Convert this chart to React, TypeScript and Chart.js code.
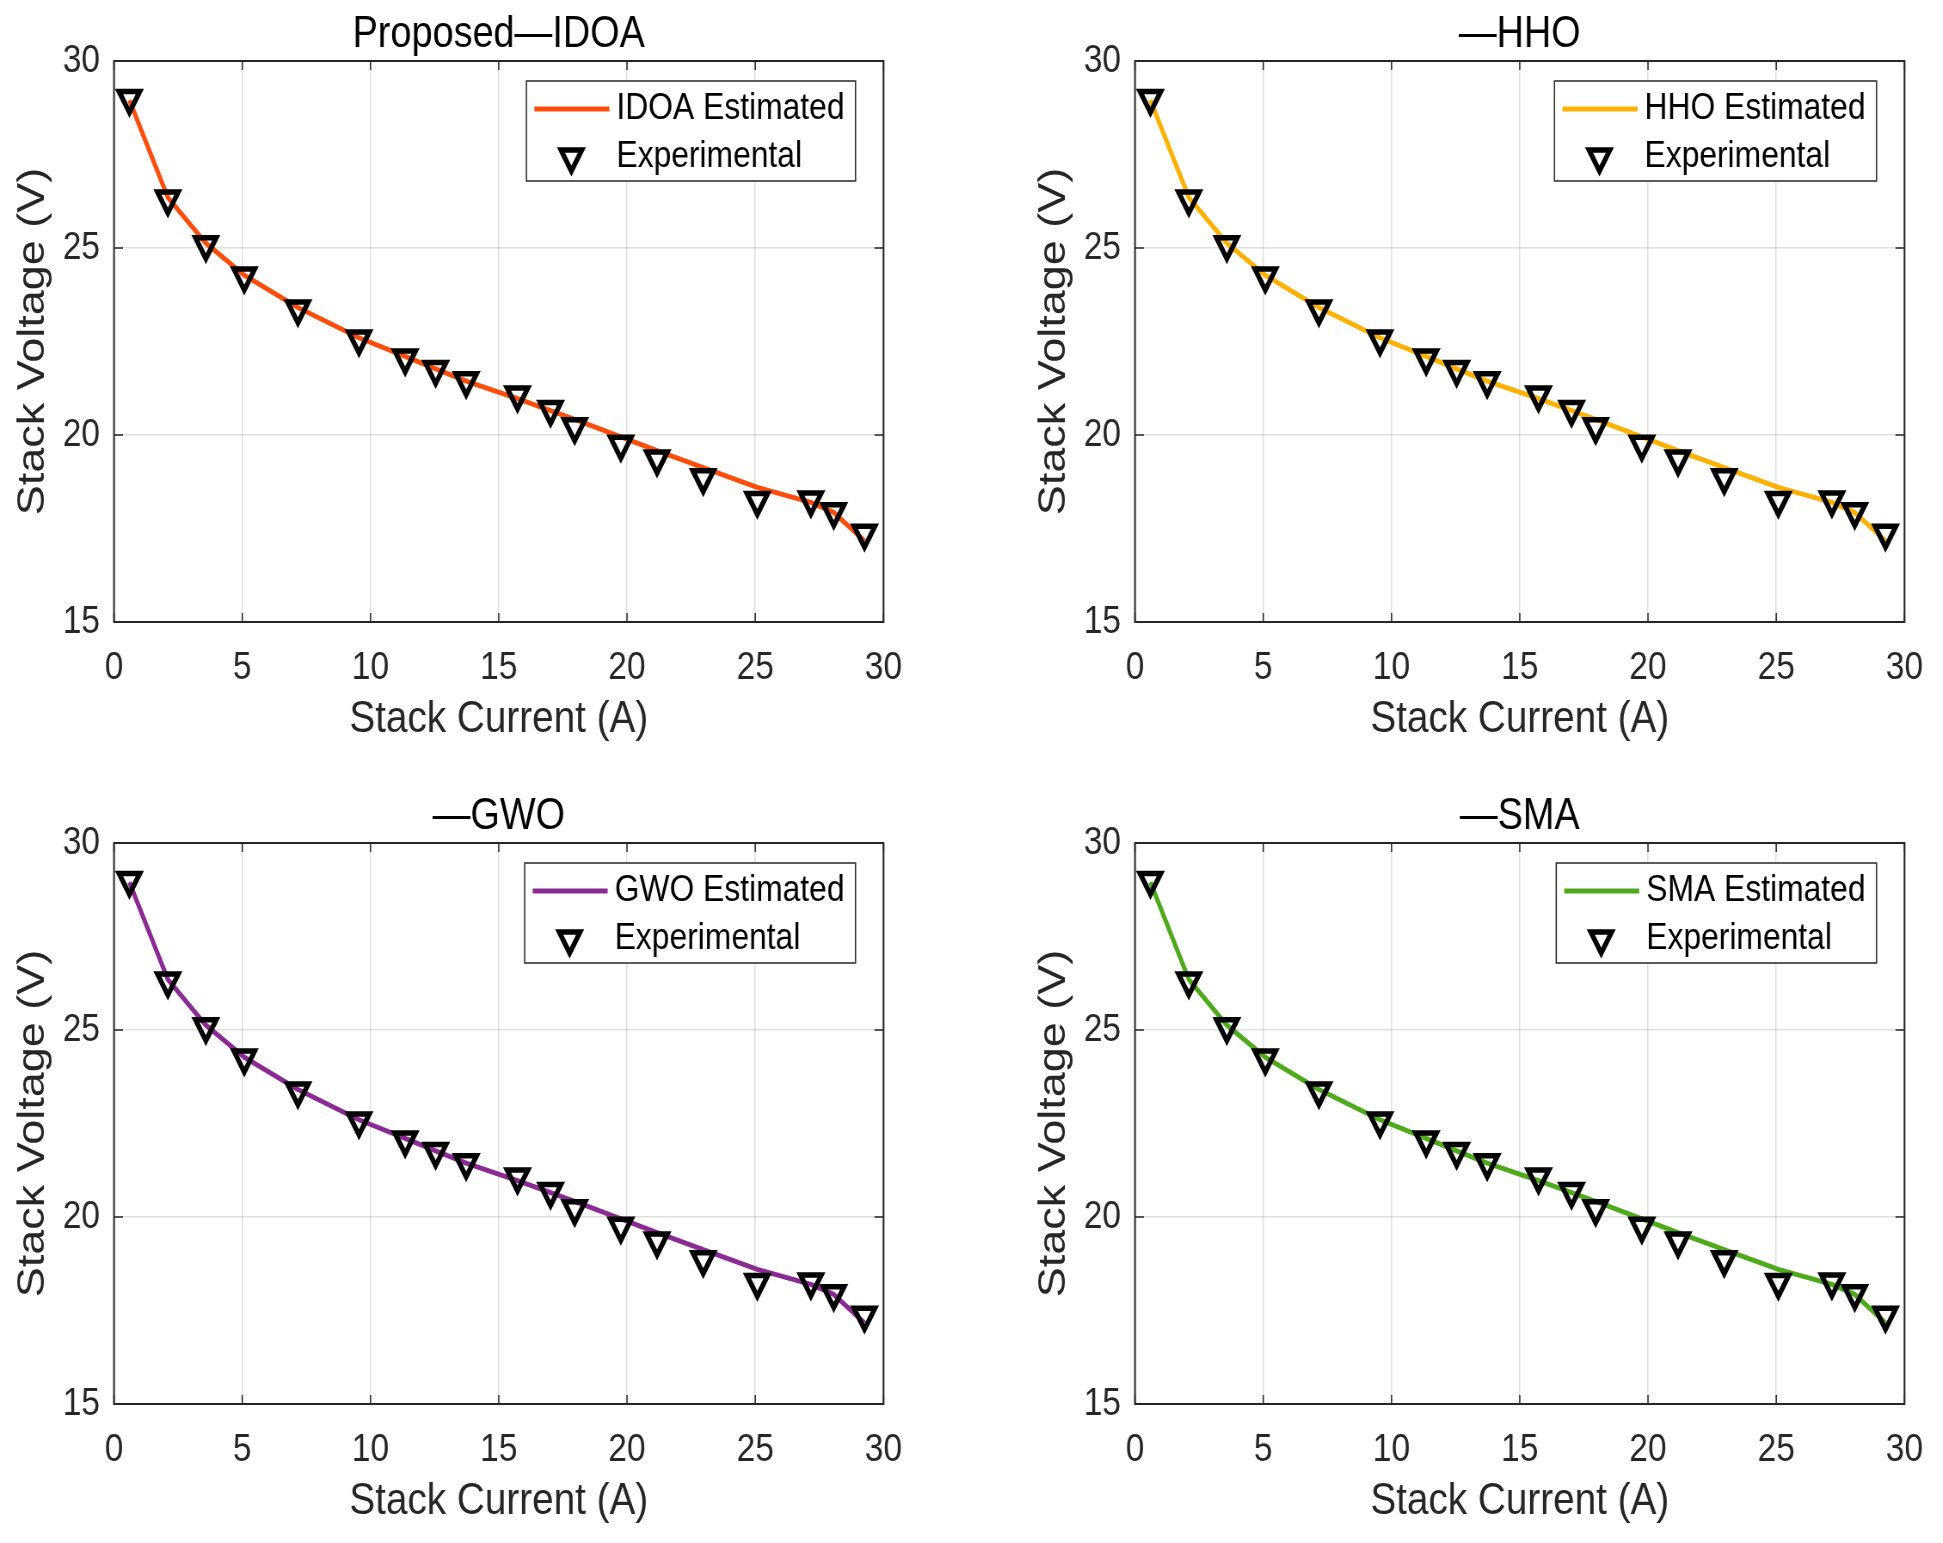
import React, { useEffect, useRef } from "react";
import { Chart, registerables } from "chart.js";
import { drawPoint } from "chart.js/helpers";

Chart.register(...registerables);

// measured stack current (A) and voltage (V), same in every panel
const currentA = [0.6, 2.1, 3.58, 5.08, 7.17, 9.55, 11.35, 12.54, 13.73, 15.73, 17.02, 17.96, 19.76, 21.17, 22.97, 25.08, 27.17, 28.06, 29.26];
const experimentalV = [29.0, 26.31, 25.09, 24.25, 23.37, 22.57, 22.06, 21.75, 21.45, 21.07, 20.68, 20.22, 19.75, 19.36, 18.86, 18.25, 18.26, 17.95, 17.37];
// model output (the four look the same)
const estimatedV = [28.95, 26.35, 25.13, 24.27, 23.41, 22.6, 22.1, 21.77, 21.44, 20.97, 20.65, 20.42, 19.95, 19.58, 19.13, 18.6, 18.2, 17.93, 17.17];

const algorithms = ["IDOA", "HHO", "GWO", "SMA"];
const titles = ["Proposed\u2014IDOA", "\u2014HHO", "\u2014GWO", "\u2014SMA"];
const xTicks = [0, 5, 10, 15, 20, 25, 30];
const yTicks = [15, 20, 25, 30];

const lineColors = ["#FF4E0C", "#FFB100", "#8A2B94", "#4EAA1C"];

const FONT = "'Liberation Sans', Arial, sans-serif";
const AXIS = "#262626";
const GRID = "rgba(38,38,38,0.15)";

// the figure is squeezed horizontally; draw wide and compress with CSS
const SQUEEZE = 0.86;
const sx = (v: number) => v / SQUEEZE;

const PANEL_W = 922;
const PANEL_H = 771;
const CANVAS_W = Math.round(sx(PANEL_W));
const AREA_LEFT = 114;
const AREA_RIGHT = 888;
const AREA_BOTTOM = 622;

// MATLAB-style box with inward tick marks
const axesBox = {
  id: "axesBox",
  afterDatasetsDraw(chart: any) {
    const { ctx, chartArea: a, scales } = chart;
    ctx.save();
    ctx.strokeStyle = AXIS;
    ctx.lineWidth = 1.5;
    ctx.beginPath();
    xTicks.forEach((v) => {
      const px = scales.x.getPixelForValue(v);
      ctx.moveTo(px, a.bottom);
      ctx.lineTo(px, a.bottom - 9);
      ctx.moveTo(px, a.top);
      ctx.lineTo(px, a.top + 9);
    });
    yTicks.forEach((v) => {
      const py = scales.y.getPixelForValue(v);
      ctx.moveTo(a.left, py);
      ctx.lineTo(a.left + sx(9), py);
      ctx.moveTo(a.right, py);
      ctx.lineTo(a.right - sx(9), py);
    });
    ctx.stroke();
    ctx.lineWidth = 2;
    ctx.strokeRect(a.left, a.top, a.right - a.left, a.bottom - a.top);
    ctx.restore();
  },
};

// boxed legend in the upper right corner of the axes
const boxLegend = {
  id: "boxLegend",
  afterDraw(chart: any) {
    const { ctx, chartArea: a } = chart;
    const sets = chart.data.datasets;
    ctx.save();
    ctx.font = `37px ${FONT}`;
    const tw = Math.max(...sets.map((d: any) => ctx.measureText(d.label).width));
    const w = sx(90) + tw + sx(11);
    const h = 100;
    const x = a.right - sx(28) - w;
    const y = a.top + 20;
    ctx.fillStyle = "#fff";
    ctx.fillRect(x, y, w, h);
    ctx.strokeStyle = AXIS;
    ctx.lineWidth = 1.5;
    ctx.strokeRect(x, y, w, h);
    sets.forEach((d: any, i: number) => {
      const cy = y + 28 + i * 48;
      if (d.showLine) {
        ctx.strokeStyle = d.borderColor;
        ctx.lineWidth = 5;
        ctx.beginPath();
        ctx.moveTo(x + sx(8), cy);
        ctx.lineTo(x + sx(83), cy);
        ctx.stroke();
      } else {
        ctx.strokeStyle = "#000";
        ctx.fillStyle = "rgba(0,0,0,0)";
        ctx.lineWidth = d.borderWidth;
        drawPoint(
          ctx,
          { pointStyle: "triangle", rotation: 180, radius: d.pointRadius, borderWidth: d.borderWidth },
          x + sx(45),
          cy
        );
      }
      ctx.fillStyle = "#000";
      ctx.textAlign = "left";
      ctx.textBaseline = "middle";
      ctx.fillText(d.label, x + sx(90), cy);
    });
    ctx.restore();
  },
};

const Panel: React.FC<{ index: number }> = ({ index }) => {
  const canvasRef = useRef<HTMLCanvasElement | null>(null);

  useEffect(() => {
    if (!canvasRef.current) return;
    const algo = algorithms[index];
    const chart = new Chart(canvasRef.current, {
      type: "scatter",
      data: {
        datasets: [
          {
            label: `${algo} Estimated`,
            data: currentA.map((x, i) => ({ x, y: estimatedV[i] })),
            showLine: true,
            borderColor: lineColors[index],
            backgroundColor: lineColors[index],
            borderWidth: 5,
            borderJoinStyle: "round",
            pointRadius: 0,
            tension: 0,
            order: 2,
          },
          {
            label: "Experimental",
            data: currentA.map((x, i) => ({ x, y: experimentalV[i] })),
            showLine: false,
            pointStyle: "triangle",
            rotation: 180,
            pointRadius: 14,
            borderWidth: 5.5,
            borderColor: "#000",
            backgroundColor: "rgba(0,0,0,0)",
            order: 1,
          },
        ] as any,
      },
      options: {
        animation: false,
        responsive: false,
        layout: { padding: { left: 0, right: CANVAS_W - sx(AREA_RIGHT), top: 0, bottom: 0 } },
        plugins: {
          legend: { display: false },
          tooltip: { enabled: false },
          title: {
            display: true,
            text: titles[index],
            color: "#000",
            fullSize: false,
            font: { family: FONT, size: 44, weight: "normal", lineHeight: 1 },
            padding: { top: 13, bottom: 4 },
          },
        },
        scales: {
          x: {
            type: "linear",
            min: 0,
            max: 30,
            afterFit: (s: any) => {
              s.height = PANEL_H - AREA_BOTTOM;
            },
            afterBuildTicks: (s: any) => {
              s.ticks = xTicks.map((value) => ({ value }));
            },
            ticks: { color: AXIS, padding: 23, font: { family: FONT, size: 39 } },
            grid: { color: GRID, lineWidth: 1.5, drawTicks: false },
            border: { display: false },
            title: {
              display: true,
              text: "Stack Current (A)",
              color: AXIS,
              font: { family: FONT, size: 45 },
              padding: { top: 0, bottom: 24 },
            },
          },
          y: {
            type: "linear",
            min: 15,
            max: 30,
            afterFit: (s: any) => {
              s.width = sx(AREA_LEFT);
            },
            afterBuildTicks: (s: any) => {
              s.ticks = yTicks.map((value) => ({ value }));
            },
            ticks: { color: AXIS, padding: sx(14), font: { family: FONT, size: 39 } },
            grid: { color: GRID, lineWidth: 1.5, drawTicks: false },
            border: { display: false },
            title: {
              display: true,
              text: "Stack Voltage (V)",
              color: AXIS,
              font: { family: FONT, size: 45 },
              padding: { top: sx(33) - 27, bottom: 0 },
            },
          },
        },
      } as any,
      plugins: [axesBox, boxLegend],
    });
    return () => {
      chart.destroy();
    };
  }, [index]);

  const left = (index % 2) * 1021;
  const top = Math.floor(index / 2) * 782;
  return (
    <div style={{ position: "absolute", left, top, width: PANEL_W, height: PANEL_H }}>
      <canvas
        ref={canvasRef}
        width={CANVAS_W}
        height={PANEL_H}
        style={{
          display: "block",
          width: CANVAS_W,
          height: PANEL_H,
          transform: `scaleX(${SQUEEZE})`,
          transformOrigin: "0 0",
        }}
      />
    </div>
  );
};

const App: React.FC = () => (
  <div
    style={{
      position: "absolute",
      left: 0,
      top: 0,
      width: 1943,
      height: 1543,
      background: "#fff",
      overflow: "hidden",
    }}
  >
    {algorithms.map((_, i) => (
      <Panel key={i} index={i} />
    ))}
  </div>
);

export default App;
